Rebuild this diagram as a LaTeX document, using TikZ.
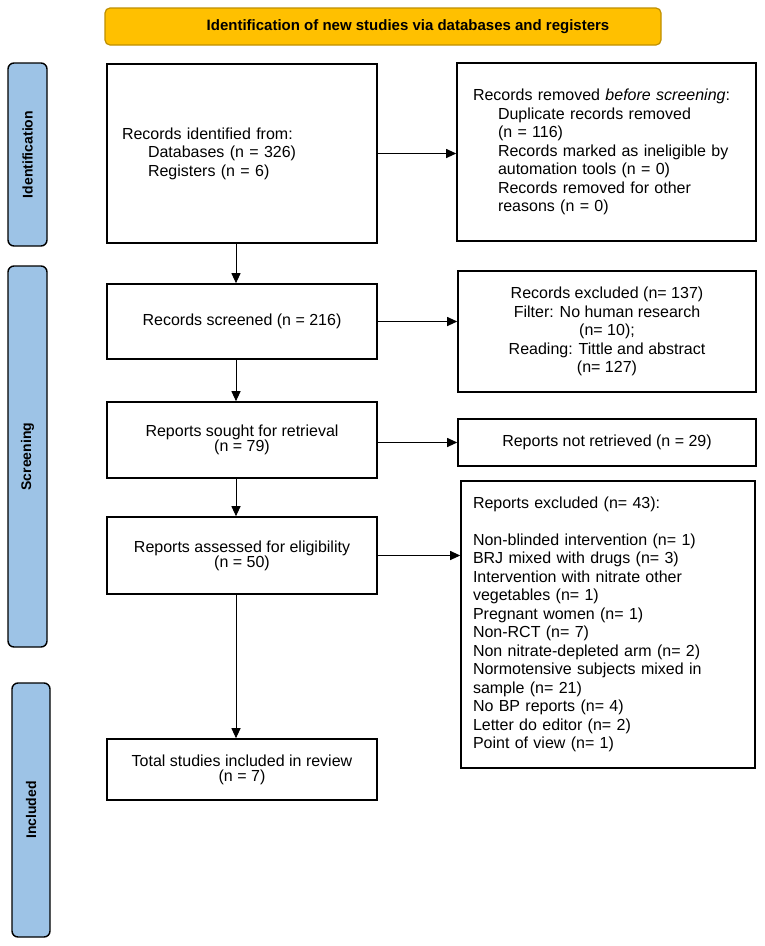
\documentclass[tikz,border=0pt]{standalone}
\usepackage{fontspec}
\setmainfont{Liberation Sans}
\usetikzlibrary{arrows.meta}
\definecolor{bannerfill}{HTML}{FFC000}
\definecolor{bannerdraw}{HTML}{BF9000}
\definecolor{sidefill}{HTML}{9DC3E6}
\begin{document}
\begin{tikzpicture}[x=1pt,y=-1pt,
  box/.style={draw=black, line width=1.6pt, fill=white, font=\fontsize{16}{18.5}\selectfont, inner ysep=0pt},
  twoline/.style={font=\fontsize{16}{15}\selectfont},
  sidelabel/.style={draw=black, line width=1.4pt, fill=sidefill, rounded corners=6pt, font=\fontsize{14}{16}\selectfont\bfseries, inner sep=0pt},
  banner/.style={draw=bannerdraw, line width=1.2pt, fill=bannerfill, rounded corners=5pt, inner sep=0pt},
  arr/.style={-{Triangle[length=10pt,width=9pt]}, line width=1pt},
]
\useasboundingbox (0,0) rectangle (765,946);
\fill[white] (0,0) rectangle (765,946);

% banner
\node[banner, minimum width=556pt, minimum height=37pt] (ban) at (383,26.5) {};
\node[font=\fontsize{15}{17}\selectfont\bfseries, inner sep=0pt] (bant) at (408,26.5) {Identification of new studies via databases and registers};

% side labels
\node[sidelabel, minimum width=183pt, minimum height=39pt, rotate=90] (sl1) at (27.5,154.5) {Identification};
\node[sidelabel, minimum width=381pt, minimum height=39pt, rotate=90] (sl2) at (27.5,456.5) {Screening};
\node[sidelabel, minimum width=254pt, minimum height=38pt, rotate=90] (sl3) at (31,810) {Included};

% left column
\node[box, minimum width=270pt, minimum height=179pt, text width=240pt, inner xsep=15pt, align=left] (b1) at (242,153.5)
  {Records identified from:\\\hspace*{26pt}Databases (n = 326)\\\hspace*{26pt}Registers (n = 6)};
\node[box, minimum width=270pt, minimum height=75pt, align=center] (b3) at (242,321.5)
  {Records screened (n = 216)};
\node[box, twoline, minimum width=270pt, minimum height=76pt, align=center] (b5) at (242,440)
  {Reports sought for retrieval\\(n = 79)};
\node[box, twoline, minimum width=270pt, minimum height=77pt, align=center] (b7) at (242,555.5)
  {Reports assessed for eligibility\\(n = 50)};
\node[box, twoline, minimum width=270pt, minimum height=61pt, align=center] (b9) at (242,769.5)
  {Total studies included in review\\(n = 7)};

% right column
\node[box, minimum width=299pt, minimum height=178pt, text width=267pt, inner xsep=16pt, align=left] (b2) at (606.5,152)
  {Records removed \textit{before screening}:\\
   \hspace*{25pt}Duplicate records removed\\
   \hspace*{25pt}(n = 116)\\
   \hspace*{25pt}Records marked as ineligible by\\
   \hspace*{25pt}automation tools (n = 0)\\
   \hspace*{25pt}Records removed for other\\
   \hspace*{25pt}reasons (n = 0)};
\node[box, minimum width=298pt, minimum height=121pt, align=center] (b4) at (607,331.5)
  {Records excluded (n= 137)\\Filter: No human research\\(n= 10);\\Reading: Tittle and abstract\\(n= 127)};
\node[box, minimum width=298pt, minimum height=47pt, align=center] (b6) at (607,442.5)
  {Reports not retrieved (n = 29)};
\node[box, minimum width=294pt, minimum height=287pt, text width=270pt, inner xsep=12pt, align=left] (b8) at (608,624.5)
  {Reports excluded (n= 43):\\[18.5pt]
   Non-blinded intervention (n= 1)\\
   BRJ mixed with drugs (n= 3)\\
   Intervention with nitrate other\\
   vegetables (n= 1)\\
   Pregnant women (n= 1)\\
   Non-RCT (n= 7)\\
   Non nitrate-depleted arm (n= 2)\\
   Normotensive subjects mixed in\\
   sample (n= 21)\\
   No BP reports (n= 4)\\
   Letter do editor (n= 2)\\
   Point of view (n= 1)};

% connectors
\coordinate (ax) at (236,0);
\draw[arr] (b1.south -| ax) -- (b3.north -| ax);
\draw[arr] (b3.south -| ax) -- (b5.north -| ax);
\draw[arr] (b5.south -| ax) -- (b7.north -| ax);
\draw[arr] (b7.south -| ax) -- (b9.north -| ax);
\draw[arr] (b1.east) -- (b2.west |- b1.east);
\draw[arr] (b3.east) -- (b4.west |- b3.east);
\draw[arr] (b5.east |- b6.west) -- (b6.west);
\draw[arr] (b7.east) -- (b8.west |- b7.east);
\end{tikzpicture}
\end{document}
